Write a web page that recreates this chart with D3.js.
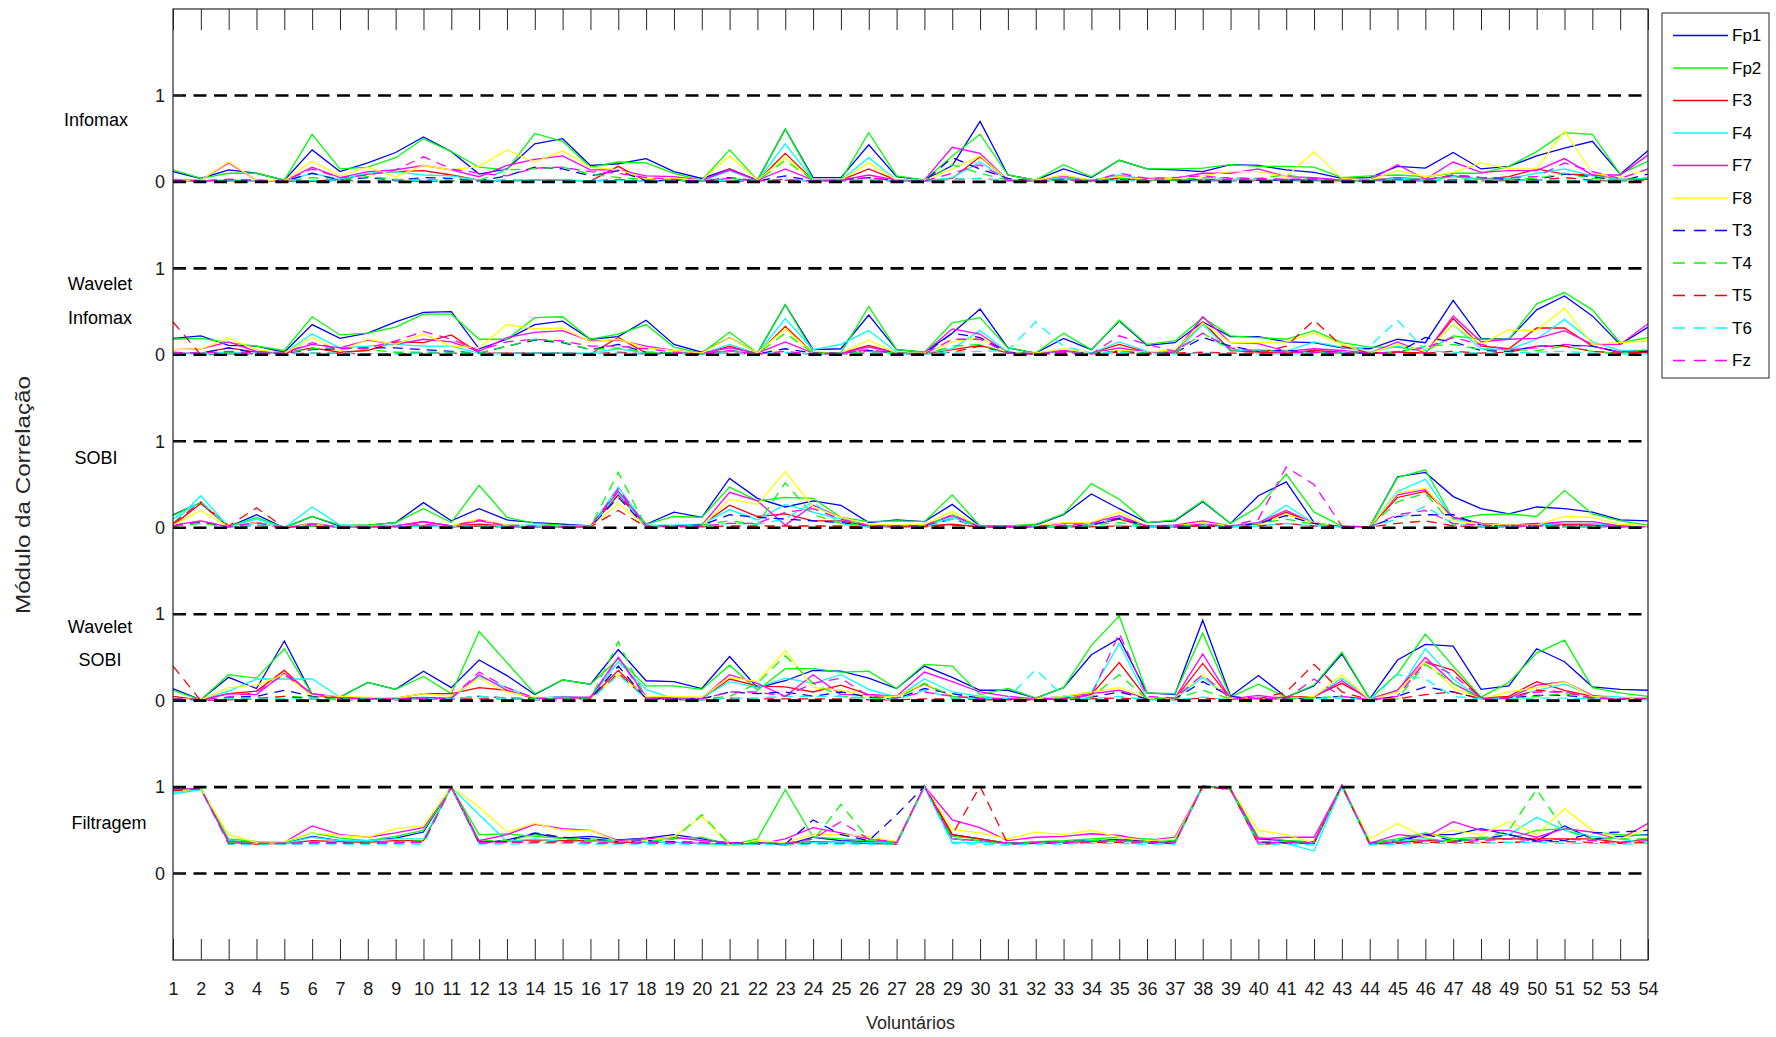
<!DOCTYPE html>
<html>
<head>
<meta charset="utf-8">
<script src="https://cdn.jsdelivr.net/npm/d3@7"></script>
<style>
  html, body { margin: 0; padding: 0; background: #fff; }
  svg { display: block; font-family: "Liberation Sans", Arial, sans-serif; }
</style>
</head>
<body>
<svg id="chart" width="1776" height="1037"></svg>
<script>
// Channels, in legend order
const channels = ["Fp1", "Fp2", "F3", "F4", "F7", "F8", "T3", "T4", "T5", "T6", "Fz"];
const volunteers = d3.range(1, 55);
const methods = ["Infomax", "Wavelet Infomax", "SOBI", "Wavelet SOBI", "Filtragem"];

// |correlation| per channel (rows) and volunteer 1..54 (columns)
const infomax = [
  [0.12,0.04,0.14,0.10,0.02,0.37,0.12,0.22,0.34,0.52,0.35,0.09,0.15,0.44,0.50,0.19,0.21,0.27,
   0.12,0.04,0.15,0.02,0.61,0.05,0.05,0.43,0.06,0.02,0.19,0.70,0.08,0.02,0.15,0.05,0.25,0.15,
   0.14,0.12,0.20,0.19,0.14,0.11,0.04,0.05,0.18,0.16,0.34,0.15,0.18,0.30,0.39,0.47,0.09,0.36],
  [0.14,0.04,0.10,0.10,0.02,0.55,0.15,0.17,0.28,0.50,0.35,0.17,0.14,0.56,0.47,0.17,0.23,0.22,
   0.10,0.02,0.37,0.02,0.61,0.03,0.02,0.57,0.07,0.02,0.30,0.55,0.08,0.02,0.20,0.06,0.25,0.15,
   0.15,0.16,0.20,0.18,0.18,0.17,0.05,0.07,0.08,0.06,0.10,0.10,0.18,0.35,0.57,0.55,0.09,0.24],
  [0.01,0.01,0.02,0.01,0.01,0.01,0.03,0.09,0.12,0.13,0.08,0.02,0.01,0.02,0.02,0.01,0.18,0.01,
   0.02,0.01,0.15,0.01,0.33,0.02,0.02,0.15,0.02,0.01,0.04,0.29,0.02,0.01,0.05,0.02,0.04,0.02,
   0.02,0.03,0.03,0.02,0.03,0.02,0.01,0.02,0.05,0.03,0.07,0.03,0.06,0.15,0.09,0.08,0.03,0.03],
  [0.01,0.01,0.02,0.01,0.01,0.10,0.03,0.10,0.12,0.08,0.07,0.02,0.01,0.02,0.03,0.01,0.02,0.01,
   0.02,0.01,0.13,0.01,0.44,0.02,0.02,0.28,0.02,0.01,0.05,0.23,0.02,0.01,0.05,0.02,0.08,0.03,
   0.02,0.03,0.03,0.03,0.02,0.02,0.01,0.02,0.04,0.03,0.06,0.03,0.04,0.10,0.15,0.07,0.03,0.04],
  [0.03,0.02,0.22,0.02,0.01,0.17,0.05,0.12,0.14,0.19,0.14,0.06,0.19,0.26,0.30,0.14,0.14,0.07,
   0.06,0.02,0.14,0.02,0.15,0.02,0.02,0.08,0.02,0.02,0.40,0.33,0.02,0.02,0.07,0.02,0.06,0.04,
   0.04,0.10,0.10,0.15,0.06,0.05,0.02,0.02,0.20,0.03,0.23,0.11,0.13,0.13,0.27,0.08,0.08,0.31],
  [0.02,0.02,0.23,0.02,0.01,0.24,0.07,0.17,0.06,0.19,0.14,0.18,0.37,0.23,0.36,0.17,0.14,0.04,
   0.04,0.02,0.30,0.02,0.28,0.02,0.02,0.22,0.02,0.02,0.15,0.30,0.02,0.02,0.08,0.02,0.06,0.03,
   0.04,0.07,0.12,0.12,0.06,0.35,0.04,0.02,0.13,0.06,0.11,0.22,0.15,0.15,0.59,0.10,0.05,0.14],
  [0.01,0.01,0.03,0.01,0.01,0.10,0.02,0.05,0.02,0.05,0.04,0.01,0.07,0.17,0.15,0.07,0.13,0.01,
   0.02,0.01,0.05,0.01,0.07,0.01,0.02,0.05,0.01,0.01,0.28,0.15,0.04,0.01,0.03,0.01,0.03,0.02,
   0.02,0.02,0.02,0.02,0.02,0.02,0.01,0.01,0.03,0.02,0.08,0.05,0.03,0.03,0.09,0.06,0.01,0.09],
  [0.02,0.01,0.02,0.01,0.01,0.05,0.02,0.06,0.03,0.03,0.02,0.02,0.14,0.15,0.17,0.09,0.05,0.03,
   0.02,0.01,0.04,0.01,0.25,0.02,0.02,0.02,0.01,0.01,0.20,0.10,0.02,0.01,0.03,0.02,0.04,0.02,
   0.02,0.05,0.05,0.04,0.08,0.03,0.01,0.02,0.03,0.02,0.06,0.03,0.03,0.04,0.10,0.04,0.02,0.05],
  [0.01,0.01,0.01,0.01,0.01,0.01,0.02,0.01,0.01,0.01,0.01,0.01,0.02,0.02,0.02,0.01,0.03,0.01,
   0.01,0.01,0.01,0.01,0.02,0.01,0.01,0.02,0.01,0.01,0.03,0.04,0.01,0.01,0.01,0.01,0.02,0.01,
   0.01,0.02,0.01,0.01,0.02,0.02,0.01,0.01,0.02,0.01,0.03,0.01,0.02,0.02,0.05,0.02,0.01,0.02],
  [0.01,0.01,0.01,0.01,0.01,0.02,0.01,0.01,0.01,0.02,0.01,0.01,0.02,0.02,0.02,0.01,0.02,0.01,
   0.01,0.01,0.02,0.01,0.03,0.01,0.01,0.02,0.01,0.01,0.03,0.04,0.01,0.01,0.02,0.01,0.02,0.01,
   0.01,0.01,0.01,0.01,0.01,0.01,0.01,0.01,0.02,0.01,0.02,0.01,0.01,0.02,0.02,0.01,0.01,0.01],
  [0.02,0.01,0.03,0.02,0.01,0.15,0.05,0.08,0.14,0.29,0.15,0.10,0.07,0.16,0.17,0.12,0.10,0.05,
   0.03,0.01,0.04,0.01,0.03,0.01,0.02,0.05,0.01,0.01,0.10,0.20,0.02,0.01,0.03,0.01,0.10,0.04,
   0.05,0.07,0.04,0.04,0.03,0.04,0.02,0.02,0.03,0.02,0.08,0.05,0.05,0.06,0.22,0.12,0.04,0.15]
];

const waveletInfomax = [
  [0.19,0.22,0.11,0.10,0.03,0.35,0.19,0.25,0.38,0.49,0.50,0.07,0.18,0.35,0.39,0.18,0.21,0.40,
   0.12,0.03,0.20,0.02,0.58,0.06,0.07,0.46,0.06,0.03,0.25,0.53,0.08,0.02,0.19,0.06,0.39,0.11,
   0.14,0.38,0.21,0.21,0.15,0.14,0.08,0.07,0.18,0.14,0.63,0.19,0.18,0.52,0.68,0.45,0.12,0.32],
  [0.18,0.19,0.14,0.10,0.05,0.44,0.23,0.25,0.32,0.47,0.47,0.18,0.18,0.43,0.44,0.18,0.24,0.35,
   0.09,0.02,0.26,0.02,0.58,0.03,0.02,0.56,0.06,0.03,0.37,0.43,0.08,0.02,0.25,0.06,0.40,0.12,
   0.16,0.43,0.22,0.20,0.18,0.28,0.14,0.09,0.09,0.04,0.22,0.18,0.18,0.59,0.72,0.52,0.14,0.20],
  [0.02,0.02,0.08,0.03,0.02,0.08,0.03,0.05,0.15,0.14,0.23,0.02,0.02,0.02,0.02,0.01,0.20,0.02,
   0.02,0.01,0.10,0.01,0.33,0.02,0.02,0.11,0.02,0.01,0.06,0.11,0.02,0.01,0.04,0.02,0.12,0.03,
   0.02,0.38,0.05,0.03,0.02,0.05,0.03,0.02,0.03,0.02,0.42,0.10,0.07,0.31,0.31,0.10,0.03,0.03],
  [0.02,0.02,0.03,0.02,0.02,0.24,0.08,0.10,0.12,0.10,0.10,0.02,0.01,0.02,0.02,0.02,0.07,0.02,
   0.02,0.01,0.12,0.01,0.42,0.06,0.12,0.28,0.03,0.02,0.07,0.28,0.03,0.01,0.05,0.02,0.15,0.04,
   0.03,0.35,0.04,0.06,0.04,0.15,0.09,0.03,0.10,0.04,0.35,0.07,0.06,0.18,0.41,0.15,0.05,0.05],
  [0.06,0.07,0.15,0.04,0.03,0.12,0.08,0.17,0.12,0.18,0.15,0.04,0.20,0.26,0.28,0.16,0.17,0.10,
   0.05,0.02,0.08,0.02,0.15,0.02,0.02,0.09,0.02,0.02,0.30,0.24,0.02,0.02,0.05,0.02,0.08,0.03,
   0.03,0.44,0.14,0.13,0.04,0.07,0.05,0.02,0.15,0.02,0.45,0.15,0.18,0.19,0.28,0.12,0.12,0.36],
  [0.06,0.07,0.19,0.06,0.02,0.20,0.04,0.18,0.12,0.24,0.10,0.08,0.35,0.30,0.31,0.15,0.18,0.08,
   0.05,0.02,0.20,0.02,0.30,0.02,0.02,0.17,0.02,0.02,0.15,0.20,0.02,0.02,0.07,0.02,0.05,0.03,
   0.06,0.37,0.14,0.14,0.15,0.25,0.12,0.02,0.12,0.04,0.35,0.12,0.29,0.28,0.54,0.12,0.14,0.16],
  [0.02,0.02,0.08,0.02,0.02,0.06,0.07,0.08,0.08,0.06,0.04,0.02,0.10,0.17,0.14,0.06,0.12,0.03,
   0.02,0.01,0.05,0.01,0.07,0.02,0.02,0.05,0.02,0.01,0.25,0.20,0.03,0.01,0.03,0.02,0.04,0.02,
   0.02,0.20,0.10,0.04,0.05,0.03,0.02,0.02,0.03,0.20,0.15,0.05,0.04,0.10,0.11,0.10,0.03,0.04],
  [0.02,0.02,0.03,0.02,0.02,0.07,0.09,0.06,0.03,0.03,0.03,0.02,0.10,0.18,0.15,0.06,0.08,0.03,
   0.02,0.01,0.05,0.01,0.25,0.02,0.02,0.04,0.02,0.01,0.10,0.12,0.02,0.01,0.03,0.02,0.04,0.02,
   0.02,0.25,0.06,0.05,0.04,0.03,0.02,0.02,0.03,0.10,0.12,0.06,0.06,0.05,0.10,0.04,0.02,0.06],
  [0.38,0.00,0.01,0.01,0.01,0.02,0.02,0.01,0.01,0.02,0.02,0.01,0.02,0.02,0.02,0.01,0.03,0.01,
   0.01,0.01,0.02,0.01,0.02,0.01,0.01,0.02,0.01,0.01,0.03,0.10,0.02,0.01,0.01,0.01,0.03,0.01,
   0.02,0.03,0.02,0.02,0.10,0.40,0.10,0.02,0.03,0.02,0.04,0.02,0.03,0.10,0.10,0.04,0.02,0.02],
  [0.01,0.01,0.01,0.01,0.01,0.02,0.02,0.01,0.01,0.02,0.02,0.01,0.02,0.02,0.02,0.01,0.02,0.01,
   0.01,0.01,0.02,0.01,0.03,0.01,0.01,0.02,0.01,0.01,0.03,0.04,0.05,0.38,0.10,0.02,0.03,0.01,
   0.01,0.02,0.01,0.01,0.01,0.02,0.02,0.10,0.40,0.05,0.03,0.02,0.02,0.03,0.04,0.02,0.01,0.01],
  [0.03,0.02,0.04,0.02,0.02,0.14,0.07,0.08,0.16,0.27,0.18,0.05,0.15,0.18,0.16,0.10,0.10,0.07,
   0.03,0.01,0.05,0.01,0.04,0.01,0.02,0.06,0.01,0.01,0.18,0.18,0.02,0.01,0.03,0.01,0.22,0.12,
   0.04,0.25,0.08,0.04,0.03,0.03,0.02,0.02,0.03,0.08,0.20,0.12,0.06,0.08,0.12,0.10,0.03,0.05]
];

const sobi = [
  [0.15,0.29,0.01,0.15,0.00,0.13,0.02,0.03,0.06,0.29,0.08,0.22,0.09,0.06,0.04,0.02,0.38,0.04,
   0.18,0.12,0.57,0.34,0.24,0.31,0.26,0.06,0.09,0.07,0.27,0.02,0.02,0.03,0.15,0.39,0.22,0.06,
   0.08,0.30,0.05,0.37,0.53,0.06,0.01,0.01,0.59,0.64,0.36,0.22,0.16,0.24,0.22,0.18,0.09,0.08],
  [0.14,0.29,0.01,0.12,0.00,0.13,0.03,0.03,0.06,0.22,0.06,0.49,0.12,0.05,0.03,0.02,0.42,0.04,
   0.13,0.12,0.47,0.31,0.35,0.34,0.12,0.07,0.08,0.07,0.38,0.02,0.02,0.04,0.16,0.51,0.33,0.06,
   0.09,0.31,0.05,0.24,0.62,0.18,0.02,0.01,0.58,0.67,0.10,0.15,0.16,0.13,0.43,0.16,0.08,0.03],
  [0.03,0.28,0.01,0.06,0.00,0.03,0.01,0.01,0.02,0.07,0.02,0.04,0.02,0.02,0.01,0.01,0.38,0.02,
   0.02,0.03,0.26,0.13,0.16,0.08,0.08,0.02,0.02,0.02,0.04,0.01,0.01,0.01,0.01,0.03,0.10,0.01,
   0.01,0.03,0.01,0.04,0.18,0.05,0.01,0.01,0.35,0.42,0.12,0.05,0.03,0.05,0.04,0.03,0.02,0.02],
  [0.05,0.37,0.01,0.10,0.00,0.24,0.03,0.02,0.03,0.03,0.02,0.02,0.03,0.03,0.02,0.01,0.47,0.03,
   0.03,0.04,0.21,0.09,0.27,0.18,0.10,0.03,0.02,0.02,0.12,0.01,0.01,0.01,0.02,0.03,0.12,0.02,
   0.03,0.05,0.02,0.05,0.26,0.05,0.01,0.01,0.42,0.56,0.10,0.05,0.03,0.03,0.05,0.05,0.02,0.02],
  [0.03,0.08,0.01,0.06,0.00,0.05,0.01,0.01,0.02,0.07,0.02,0.08,0.03,0.02,0.01,0.01,0.42,0.02,
   0.02,0.03,0.41,0.31,0.03,0.26,0.12,0.03,0.02,0.03,0.14,0.01,0.01,0.02,0.05,0.06,0.14,0.02,
   0.03,0.08,0.02,0.06,0.20,0.05,0.01,0.01,0.38,0.44,0.12,0.05,0.03,0.04,0.07,0.07,0.02,0.02],
  [0.03,0.20,0.01,0.06,0.00,0.04,0.01,0.01,0.02,0.03,0.02,0.10,0.03,0.02,0.01,0.01,0.28,0.02,
   0.02,0.02,0.33,0.27,0.65,0.24,0.12,0.04,0.03,0.04,0.19,0.01,0.01,0.02,0.06,0.06,0.18,0.02,
   0.02,0.06,0.02,0.03,0.15,0.06,0.01,0.01,0.40,0.46,0.08,0.04,0.03,0.03,0.13,0.12,0.04,0.02],
  [0.02,0.06,0.01,0.03,0.00,0.02,0.01,0.01,0.01,0.02,0.01,0.02,0.01,0.01,0.01,0.01,0.35,0.01,
   0.02,0.03,0.15,0.12,0.10,0.08,0.06,0.02,0.02,0.02,0.10,0.01,0.01,0.01,0.02,0.03,0.11,0.02,
   0.02,0.03,0.01,0.05,0.14,0.05,0.01,0.01,0.13,0.15,0.15,0.03,0.02,0.02,0.02,0.02,0.01,0.01],
  [0.02,0.05,0.01,0.03,0.00,0.02,0.01,0.01,0.01,0.02,0.01,0.02,0.01,0.01,0.01,0.01,0.64,0.01,
   0.02,0.03,0.08,0.04,0.52,0.15,0.05,0.02,0.02,0.02,0.15,0.01,0.01,0.01,0.02,0.03,0.06,0.02,
   0.02,0.03,0.01,0.05,0.10,0.04,0.01,0.01,0.30,0.40,0.03,0.02,0.02,0.02,0.02,0.02,0.01,0.01],
  [0.05,0.30,0.02,0.23,0.00,0.02,0.01,0.01,0.01,0.02,0.01,0.02,0.01,0.01,0.01,0.01,0.20,0.01,
   0.01,0.01,0.02,0.02,0.02,0.02,0.02,0.01,0.01,0.01,0.03,0.01,0.01,0.01,0.01,0.01,0.02,0.01,
   0.01,0.02,0.01,0.02,0.05,0.02,0.01,0.01,0.05,0.08,0.02,0.01,0.01,0.01,0.01,0.01,0.01,0.01],
  [0.10,0.30,0.01,0.05,0.00,0.03,0.01,0.01,0.01,0.02,0.01,0.02,0.01,0.01,0.01,0.01,0.40,0.01,
   0.01,0.02,0.05,0.04,0.10,0.30,0.04,0.01,0.01,0.01,0.10,0.01,0.01,0.01,0.01,0.01,0.03,0.01,
   0.01,0.02,0.01,0.02,0.05,0.02,0.01,0.01,0.10,0.25,0.04,0.02,0.01,0.01,0.01,0.01,0.01,0.01],
  [0.02,0.08,0.01,0.06,0.00,0.04,0.01,0.01,0.02,0.04,0.02,0.09,0.02,0.02,0.01,0.01,0.45,0.02,
   0.02,0.02,0.05,0.05,0.18,0.22,0.10,0.02,0.02,0.02,0.15,0.01,0.01,0.02,0.03,0.05,0.12,0.02,
   0.02,0.04,0.02,0.10,0.70,0.50,0.02,0.01,0.15,0.20,0.05,0.03,0.02,0.02,0.03,0.03,0.01,0.01]
];

const waveletSobi = [
  [0.14,0.01,0.27,0.14,0.69,0.07,0.04,0.21,0.13,0.34,0.15,0.47,0.29,0.07,0.24,0.19,0.59,0.23,
   0.22,0.14,0.51,0.15,0.23,0.35,0.34,0.26,0.14,0.40,0.27,0.12,0.12,0.03,0.15,0.53,0.72,0.09,
   0.07,0.93,0.05,0.29,0.04,0.17,0.54,0.02,0.47,0.65,0.63,0.13,0.17,0.60,0.45,0.16,0.13,0.12],
  [0.12,0.01,0.30,0.26,0.60,0.07,0.04,0.21,0.13,0.28,0.08,0.80,0.44,0.08,0.24,0.19,0.48,0.17,
   0.17,0.13,0.41,0.12,0.37,0.37,0.33,0.34,0.14,0.42,0.40,0.07,0.14,0.03,0.15,0.64,0.98,0.09,
   0.08,0.78,0.04,0.19,0.04,0.18,0.56,0.02,0.31,0.77,0.40,0.04,0.21,0.55,0.70,0.15,0.09,0.05],
  [0.05,0.01,0.08,0.11,0.35,0.06,0.03,0.02,0.03,0.08,0.08,0.15,0.12,0.02,0.04,0.03,0.35,0.03,
   0.02,0.02,0.25,0.17,0.16,0.10,0.18,0.07,0.05,0.19,0.05,0.03,0.02,0.01,0.02,0.07,0.44,0.02,
   0.02,0.43,0.02,0.03,0.04,0.05,0.20,0.02,0.12,0.45,0.35,0.03,0.05,0.22,0.12,0.05,0.02,0.02],
  [0.02,0.01,0.11,0.25,0.25,0.25,0.04,0.02,0.02,0.04,0.02,0.28,0.15,0.03,0.05,0.03,0.45,0.13,
   0.02,0.03,0.22,0.15,0.26,0.20,0.30,0.13,0.04,0.25,0.10,0.05,0.02,0.02,0.05,0.10,0.66,0.02,
   0.02,0.27,0.02,0.04,0.02,0.04,0.26,0.02,0.10,0.60,0.25,0.02,0.03,0.12,0.19,0.06,0.04,0.02],
  [0.02,0.01,0.08,0.07,0.32,0.08,0.04,0.03,0.03,0.03,0.03,0.30,0.12,0.03,0.04,0.04,0.50,0.05,
   0.03,0.03,0.30,0.20,0.05,0.30,0.07,0.07,0.05,0.33,0.22,0.10,0.05,0.02,0.05,0.08,0.12,0.03,
   0.03,0.54,0.02,0.06,0.02,0.04,0.23,0.01,0.12,0.50,0.20,0.03,0.03,0.18,0.22,0.06,0.02,0.03],
  [0.02,0.01,0.15,0.18,0.30,0.06,0.05,0.04,0.03,0.08,0.05,0.26,0.10,0.04,0.03,0.02,0.30,0.05,
   0.05,0.04,0.27,0.22,0.58,0.15,0.12,0.05,0.05,0.20,0.05,0.04,0.02,0.02,0.05,0.10,0.15,0.03,
   0.03,0.30,0.02,0.03,0.02,0.05,0.30,0.01,0.10,0.45,0.15,0.02,0.10,0.15,0.22,0.05,0.03,0.02],
  [0.02,0.01,0.04,0.05,0.12,0.05,0.02,0.02,0.02,0.03,0.02,0.05,0.03,0.02,0.02,0.02,0.40,0.02,
   0.02,0.02,0.10,0.08,0.10,0.05,0.10,0.04,0.02,0.14,0.08,0.03,0.02,0.01,0.02,0.04,0.10,0.02,
   0.02,0.22,0.05,0.02,0.02,0.03,0.05,0.01,0.05,0.16,0.10,0.02,0.03,0.06,0.06,0.03,0.02,0.02],
  [0.02,0.01,0.03,0.03,0.05,0.04,0.02,0.02,0.02,0.02,0.02,0.05,0.03,0.02,0.02,0.02,0.68,0.02,
   0.02,0.02,0.05,0.20,0.52,0.20,0.05,0.03,0.02,0.20,0.05,0.02,0.02,0.01,0.02,0.04,0.30,0.02,
   0.02,0.12,0.02,0.02,0.02,0.03,0.05,0.01,0.02,0.42,0.20,0.02,0.02,0.05,0.08,0.02,0.02,0.02],
  [0.40,0.00,0.01,0.02,0.05,0.02,0.01,0.01,0.01,0.02,0.02,0.02,0.02,0.01,0.01,0.01,0.32,0.02,
   0.01,0.01,0.03,0.02,0.02,0.02,0.02,0.01,0.01,0.02,0.02,0.01,0.01,0.01,0.01,0.02,0.03,0.01,
   0.01,0.03,0.01,0.02,0.10,0.42,0.10,0.01,0.02,0.07,0.10,0.02,0.03,0.12,0.10,0.03,0.02,0.02],
  [0.01,0.01,0.02,0.02,0.02,0.02,0.01,0.01,0.01,0.02,0.02,0.05,0.02,0.01,0.01,0.01,0.30,0.02,
   0.01,0.01,0.03,0.03,0.05,0.05,0.05,0.02,0.01,0.12,0.03,0.02,0.03,0.36,0.05,0.02,0.05,0.01,
   0.01,0.04,0.01,0.02,0.01,0.02,0.03,0.01,0.30,0.25,0.05,0.02,0.02,0.03,0.03,0.02,0.01,0.01],
  [0.02,0.01,0.04,0.10,0.30,0.08,0.03,0.02,0.02,0.03,0.03,0.33,0.15,0.03,0.03,0.03,0.50,0.03,
   0.02,0.02,0.10,0.10,0.05,0.20,0.26,0.05,0.03,0.10,0.05,0.03,0.02,0.02,0.03,0.06,0.78,0.05,
   0.03,0.30,0.02,0.03,0.02,0.25,0.05,0.01,0.05,0.45,0.30,0.03,0.03,0.10,0.10,0.03,0.02,0.02]
];

const filtragem = [
  [0.95,0.98,0.38,0.35,0.35,0.43,0.38,0.38,0.41,0.48,1.00,0.35,0.39,0.46,0.41,0.43,0.39,0.41,
   0.45,0.40,0.35,0.36,0.33,0.42,0.38,0.37,0.36,1.01,0.45,0.40,0.35,0.36,0.37,0.38,0.39,0.38,
   0.36,1.01,0.98,0.40,0.38,0.35,1.02,0.35,0.38,0.45,0.45,0.52,0.45,0.38,0.55,0.40,0.43,0.45],
  [0.97,0.99,0.40,0.37,0.36,0.47,0.41,0.38,0.43,0.50,1.00,0.45,0.46,0.43,0.41,0.40,0.38,0.40,
   0.40,0.42,0.33,0.40,0.97,0.42,0.40,0.38,0.36,1.01,0.43,0.40,0.35,0.37,0.38,0.40,0.42,0.40,
   0.38,1.01,0.98,0.42,0.38,0.37,1.01,0.36,0.40,0.47,0.40,0.42,0.40,0.50,0.52,0.48,0.45,0.44],
  [0.96,0.98,0.36,0.34,0.35,0.38,0.37,0.36,0.38,0.38,1.00,0.37,0.37,0.39,0.38,0.38,0.36,0.36,
   0.36,0.35,0.34,0.35,0.35,0.37,0.36,0.35,0.34,1.01,0.45,0.40,0.35,0.35,0.36,0.37,0.38,0.37,
   0.36,1.01,0.97,0.34,0.36,0.37,1.02,0.34,0.36,0.38,0.38,0.40,0.40,0.40,0.40,0.40,0.36,0.40],
  [0.92,0.97,0.38,0.35,0.35,0.42,0.38,0.38,0.40,0.40,1.00,0.68,0.37,0.40,0.37,0.37,0.38,0.36,
   0.36,0.35,0.33,0.35,0.34,0.36,0.36,0.36,0.35,1.00,0.36,0.36,0.34,0.35,0.36,0.38,0.37,0.36,
   0.34,1.01,0.98,0.35,0.35,0.26,1.00,0.34,0.38,0.40,0.37,0.40,0.45,0.65,0.50,0.43,0.40,0.35],
  [0.98,0.98,0.37,0.36,0.36,0.55,0.45,0.42,0.47,0.53,1.00,0.38,0.45,0.57,0.52,0.50,0.38,0.40,
   0.42,0.38,0.36,0.34,0.40,0.53,0.47,0.40,0.36,1.01,0.62,0.53,0.38,0.42,0.43,0.46,0.44,0.38,
   0.42,1.01,0.98,0.40,0.42,0.42,1.02,0.35,0.45,0.42,0.60,0.50,0.50,0.42,0.52,0.48,0.40,0.58],
  [0.95,0.98,0.45,0.36,0.37,0.47,0.44,0.42,0.52,0.55,1.00,0.77,0.48,0.58,0.50,0.50,0.37,0.38,
   0.43,0.66,0.33,0.38,0.36,0.45,0.45,0.43,0.37,1.01,0.51,0.47,0.40,0.48,0.45,0.50,0.42,0.38,
   0.40,1.01,0.98,0.50,0.45,0.35,1.02,0.40,0.58,0.42,0.50,0.45,0.60,0.45,0.75,0.50,0.40,0.52],
  [0.96,0.98,0.35,0.35,0.34,0.36,0.36,0.36,0.36,0.37,1.00,0.36,0.37,0.47,0.42,0.40,0.37,0.38,
   0.37,0.36,0.35,0.36,0.34,0.62,0.45,0.38,0.68,1.01,0.40,0.38,0.35,0.36,0.37,0.38,0.39,0.37,
   0.36,1.01,0.98,0.36,0.36,0.35,1.02,0.35,0.37,0.45,0.38,0.40,0.45,0.38,0.38,0.47,0.48,0.50],
  [0.96,0.98,0.36,0.35,0.35,0.37,0.37,0.36,0.37,0.38,1.00,0.38,0.38,0.45,0.40,0.38,0.37,0.37,
   0.40,0.68,0.34,0.36,0.35,0.38,0.80,0.40,0.36,1.01,0.40,0.38,0.35,0.36,0.37,0.38,0.38,0.37,
   0.37,1.01,0.98,0.37,0.37,0.36,1.02,0.35,0.37,0.40,0.38,0.40,0.50,0.97,0.50,0.40,0.40,0.40],
  [0.96,0.98,0.34,0.34,0.34,0.35,0.35,0.35,0.35,0.36,1.00,0.35,0.36,0.36,0.36,0.35,0.35,0.35,
   0.35,0.35,0.34,0.34,0.34,0.35,0.35,0.35,0.34,1.01,0.45,1.01,0.34,0.35,0.35,0.36,0.36,0.35,
   0.35,1.01,0.97,0.34,0.35,0.35,1.02,0.34,0.35,0.36,0.36,0.36,0.36,0.37,0.37,0.36,0.35,0.36],
  [0.94,0.97,0.34,0.33,0.34,0.34,0.34,0.34,0.34,0.34,1.00,0.34,0.34,0.35,0.35,0.34,0.34,0.34,
   0.34,0.34,0.33,0.34,0.33,0.34,0.34,0.34,0.34,1.00,0.35,0.34,0.33,0.34,0.34,0.35,0.35,0.34,
   0.34,1.01,0.97,0.34,0.34,0.33,1.00,0.33,0.34,0.35,0.35,0.35,0.36,0.36,0.35,0.35,0.34,0.35],
  [0.98,0.98,0.35,0.35,0.35,0.36,0.35,0.35,0.36,0.36,1.00,0.36,0.36,0.37,0.37,0.36,0.35,0.36,
   0.36,0.36,0.35,0.35,0.35,0.40,0.60,0.40,0.36,1.01,0.40,0.38,0.35,0.36,0.36,0.37,0.38,0.36,
   0.36,1.01,0.98,0.36,0.36,0.35,1.02,0.35,0.36,0.38,0.37,0.38,0.40,0.38,0.40,0.38,0.36,0.38]
];

const methodData = [infomax, waveletInfomax, sobi, waveletSobi, filtragem];
// each method is stacked two units above the next one
const offsets = [8, 6, 4, 2, 0];
const yTickLabels = ["0", "1"];

// line styles per channel: first six solid, last five dashed
const colors = ["#0000ff", "#00ff00", "#ff0000", "#00ffff", "#ff00ff", "#ffff00",
                "#0000ff", "#00ff00", "#ff0000", "#00ffff", "#ff00ff"];
const dashed = [false, false, false, false, false, false, true, true, true, true, true];

const svg = d3.select("#chart");
const x = d3.scaleLinear().domain([1, 54]).range([173, 1648]);
const y = d3.scaleLinear().domain([-1, 10]).range([960, 9]);
const [xL, xR] = x.range();
const [yB, yT] = y.range();
const axisColor = "#262626";

// data lines
const gLines = svg.append("g");
methodData.forEach((rows, m) => {
  rows.forEach((vals, c) => {
    const line = d3.line()
      .x((d, i) => x(volunteers[i]))
      .y(d => y(offsets[m] + d));
    gLines.append("path")
      .attr("d", line(vals))
      .attr("fill", "none")
      .attr("stroke", colors[c])
      .attr("stroke-width", 1.3)
      .attr("stroke-dasharray", dashed[c] ? "10,7" : null);
  });
});

// dashed reference lines at 0 and 1 of every method
const gRef = svg.append("g");
offsets.forEach(o => {
  [0, 1].forEach(v => {
    gRef.append("line")
      .attr("x1", xL).attr("x2", xR)
      .attr("y1", y(o + v)).attr("y2", y(o + v))
      .attr("stroke", "#000").attr("stroke-width", 2.6)
      .attr("stroke-dasharray", "13,7.5");
  });
});

// frame
svg.append("rect")
  .attr("x", xL).attr("y", yT)
  .attr("width", xR - xL).attr("height", yB - yT)
  .attr("fill", "none").attr("stroke", axisColor).attr("stroke-width", 1.2);

// x ticks (inward, top and bottom)
const xAxisB = d3.axisBottom(x).tickValues(volunteers).tickFormat(d3.format("d"))
  .tickSizeInner(-21).tickSizeOuter(0).tickPadding(22);
const gxb = svg.append("g").attr("transform", `translate(0,${yB})`).call(xAxisB);
gxb.select(".domain").remove();
gxb.selectAll(".tick line").attr("stroke", axisColor);
gxb.selectAll(".tick text")
  .attr("font-size", 18).attr("fill", "#1a1a1a")
  .attr("font-family", "'Liberation Sans', Arial, sans-serif");

const xAxisT = d3.axisTop(x).tickValues(volunteers).tickFormat("")
  .tickSizeInner(-21).tickSizeOuter(0);
const gxt = svg.append("g").attr("transform", `translate(0,${yT})`).call(xAxisT);
gxt.select(".domain").remove();
gxt.selectAll(".tick line").attr("stroke", axisColor);

// y tick labels: 0 and 1 for every method
const gy = svg.append("g");
offsets.forEach(o => {
  yTickLabels.forEach((lab, k) => {
    gy.append("text")
      .attr("x", 160).attr("y", y(o + k))
      .attr("dy", "0.35em")
      .attr("text-anchor", "middle")
      .attr("font-size", 18).attr("fill", "#1a1a1a")
      .text(lab);
    gy.append("line")
      .attr("x1", xL).attr("x2", xL + 10)
      .attr("y1", y(o + k)).attr("y2", y(o + k))
      .attr("stroke", axisColor);
  });
});

// method names beside each band
const methodLabels = [
  { lines: ["Infomax"], cx: 96, at: [8.72] },
  { lines: ["Wavelet", "Infomax"], cx: 100, at: [6.82, 6.43] },
  { lines: ["SOBI"], cx: 96, at: [4.81] },
  { lines: ["Wavelet", "SOBI"], cx: 100, at: [2.85, 2.47] },
  { lines: ["Filtragem"], cx: 109, at: [0.585] }
];
methodLabels.forEach(lbl => {
  lbl.lines.forEach((t, i) => {
    svg.append("text")
      .attr("x", lbl.cx).attr("y", y(lbl.at[i]))
      .attr("dy", "0.35em").attr("text-anchor", "middle")
      .attr("font-size", 18).attr("fill", "#000")
      .text(t);
  });
});

// axis titles
svg.append("text")
  .attr("transform", `translate(30,495) rotate(-90) scale(1.1,0.88)`)
  .attr("text-anchor", "middle")
  .attr("font-size", 22).attr("fill", "#262626")
  .text("Módulo da Correlação");

svg.append("text")
  .attr("x", (xL + xR) / 2).attr("y", 1029)
  .attr("text-anchor", "middle")
  .attr("font-size", 18).attr("fill", "#262626")
  .text("Voluntários");

// legend
const lg = svg.append("g");
lg.append("rect")
  .attr("x", 1662).attr("y", 13).attr("width", 107).attr("height", 365)
  .attr("fill", "#fff").attr("stroke", axisColor).attr("stroke-width", 1);
channels.forEach((ch, i) => {
  const ly = 35.5 + i * 32.5;
  lg.append("line")
    .attr("x1", 1673).attr("x2", 1728).attr("y1", ly).attr("y2", ly)
    .attr("stroke", colors[i]).attr("stroke-width", 1.3)
    .attr("stroke-dasharray", dashed[i] ? "12,9" : null);
  lg.append("text")
    .attr("x", 1732).attr("y", ly).attr("dy", "0.35em")
    .attr("font-size", 17).attr("fill", "#000")
    .text(ch);
});
</script>
</body>
</html>
